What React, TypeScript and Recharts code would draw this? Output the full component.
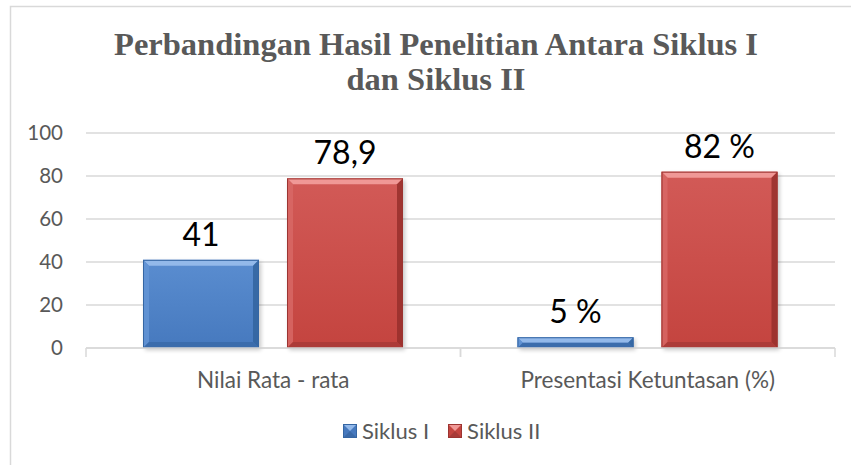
import React from 'react';
import { BarChart, Bar, XAxis, YAxis, CartesianGrid, Legend, LabelList, Customized } from 'recharts';

const categories = ['Nilai Rata - rata', 'Presentasi Ketuntasan (%)'];
const siklus1 = [41, 5];
const siklus2 = [78.9, 82];
const siklus1Labels = ['41', '5 %'];
const siklus2Labels = ['78,9', '82 %'];
const yTicks = [0, 20, 40, 60, 80, 100];
const seriesNames = ['Siklus I', 'Siklus II'];
const titleLines = ['Perbandingan Hasil Penelitian Antara Siklus I', 'dan Siklus II'];

const data = categories.map((c, i) => ({
  name: c,
  s1: siklus1[i],
  s2: siklus2[i],
  l1: siklus1Labels[i],
  l2: siklus2Labels[i],
}));

const BLUE = { key: 'b', top: '#5a8dd0', bottom: '#4679be', hi: '#93b9ea', left: '#6596d6', right: '#33649f', low: '#3a6aa8', edge: '#3566a3' };
const RED = { key: 'r', top: '#d25a57', bottom: '#c4443f', hi: '#f09896', left: '#d86966', right: '#962f2c', low: '#a83a37', edge: '#9c3431' };

const GRID = '#d9d9d9';
const TEXT = '#595959';
const FONT = 'Lato, "Open Sans", sans-serif';
const X_TICK_MARGIN = 24;

function BevelBar(props: any) {
  const { x, y, width, height, palette } = props;
  if (!height || height <= 0) return null;
  const b = Math.min(6, height / 2, width / 2);
  const id = `grad-${palette.key}-${Math.round(x)}`;
  const x2 = x + width;
  const y2 = y + height;
  return (
    <g>
      <defs>
        <linearGradient id={id} x1="0" y1="0" x2="0" y2="1">
          <stop offset="0" stopColor={palette.top} />
          <stop offset="1" stopColor={palette.bottom} />
        </linearGradient>
        <filter id={id + 's'} x="-20%" y="-20%" width="150%" height="150%">
          <feGaussianBlur stdDeviation="2" />
        </filter>
      </defs>
      <rect x={x + 2} y={y + 2} width={width} height={height} fill="#000" opacity={0.22} filter={`url(#${id}s)`} />
      <rect x={x} y={y} width={width} height={height} fill={`url(#${id})`} />
      <polygon points={`${x},${y} ${x2},${y} ${x2 - b},${y + b} ${x + b},${y + b}`} fill={palette.hi} />
      <polygon points={`${x},${y} ${x + b},${y + b} ${x + b},${y2 - b} ${x},${y2}`} fill={palette.left} opacity={0.8} />
      <polygon points={`${x2},${y} ${x2},${y2} ${x2 - b},${y2 - b} ${x2 - b},${y + b}`} fill={palette.right} opacity={0.85} />
      <polygon points={`${x},${y2} ${x + b},${y2 - b} ${x2 - b},${y2 - b} ${x2},${y2}`} fill={palette.low} opacity={0.85} />
      <rect x={x + 0.5} y={y + 0.5} width={width - 1} height={height - 1} fill="none" stroke={palette.edge} strokeWidth={1} />
    </g>
  );
}

function LegendIcon({ palette }: any) {
  return (
    <svg width={14} height={14} style={{ display: 'block' }}>
      <rect x={0} y={0} width={14} height={14} fill={palette.bottom} />
      <polygon points="0,0 14,0 7,7" fill={palette.hi} />
      <polygon points="0,14 14,14 7,7" fill={palette.low} />
      <rect x={0.5} y={0.5} width={13} height={13} fill="none" stroke={palette.edge} />
    </svg>
  );
}

function LegendContent() {
  const pals = [BLUE, RED];
  return (
    <div style={{ display: 'flex', alignItems: 'center', fontFamily: FONT, fontSize: 22, color: TEXT }}>
      {seriesNames.map((n, i) => (
        <div key={n} style={{ display: 'flex', alignItems: 'center', marginRight: 19 }}>
          <LegendIcon palette={pals[i]} />
          <span style={{ marginLeft: 5, lineHeight: '22px' }}>{n}</span>
        </div>
      ))}
    </div>
  );
}

function Decor() {
  return (
    <g>
      <rect x={10.5} y={6.5} width={870} height={480} fill="none" stroke={GRID} strokeWidth={1.5} />
      {titleLines.map((t, i) => (
        <text
          key={i}
          x={436}
          y={55 + i * 35}
          textAnchor="middle"
          fontFamily='"Liberation Serif", "Times New Roman", serif'
          fontWeight="bold"
          fontSize={32.5}
          fill={TEXT}
        >
          {t}
        </text>
      ))}
    </g>
  );
}

function CategoryTick(props: any) {
  const { x, y, payload } = props;
  const off = payload && typeof payload.offset === 'number' ? payload.offset : 0;
  const axisY = y - X_TICK_MARGIN;
  return (
    <g>
      {off > 0 && (
        <>
          <line x1={x - off} x2={x - off} y1={axisY} y2={axisY + 9} stroke={GRID} strokeWidth={1.5} />
          <line x1={x + off} x2={x + off} y1={axisY} y2={axisY + 9} stroke={GRID} strokeWidth={1.5} />
        </>
      )}
      <text x={x} y={y} dy="0.71em" textAnchor="middle" fill={TEXT} fontSize={22.5} fontFamily={FONT}>
        {payload.value}
      </text>
    </g>
  );
}

export default function App() {
  return (
    <div style={{ position: 'absolute', left: 0, top: 0, width: 851, height: 465, background: '#fff' }}>
      <BarChart
        width={851}
        height={465}
        data={data}
        margin={{ top: 133, right: 16, left: 10, bottom: 77 }}
        barSize={116}
        barGap={28}
        style={{ fontFamily: FONT }}
      >
        <Customized component={Decor} />
        <CartesianGrid vertical={false} stroke={GRID} strokeWidth={1.5} />
        <XAxis
          dataKey="name"
          height={40}
          axisLine={{ stroke: GRID, strokeWidth: 1.5 }}
          tickLine={false}
          tickSize={0}
          tickMargin={X_TICK_MARGIN}
          tick={<CategoryTick />}
          interval={0}
        />
        <YAxis
          width={76}
          domain={[0, 100]}
          ticks={yTicks}
          axisLine={false}
          tickLine={false}
          tickSize={0}
          tickMargin={23}
          tick={{ fill: TEXT, fontSize: 20.5, fontFamily: FONT }}
        />
        <Legend
          verticalAlign="middle"
          align="center"
          layout="horizontal"
          wrapperStyle={{ top: 420, left: 343, width: 'auto' }}
          content={<LegendContent />}
        />
        <Bar dataKey="s1" name={seriesNames[0]} isAnimationActive={false} shape={(p: any) => <BevelBar {...p} palette={BLUE} />}>
          <LabelList dataKey="l1" position="top" offset={14} style={{ fill: '#000', fontSize: 32, fontFamily: FONT }} />
        </Bar>
        <Bar dataKey="s2" name={seriesNames[1]} isAnimationActive={false} shape={(p: any) => <BevelBar {...p} palette={RED} />}>
          <LabelList dataKey="l2" position="top" offset={14} style={{ fill: '#000', fontSize: 32, fontFamily: FONT }} />
        </Bar>
      </BarChart>
    </div>
  );
}
